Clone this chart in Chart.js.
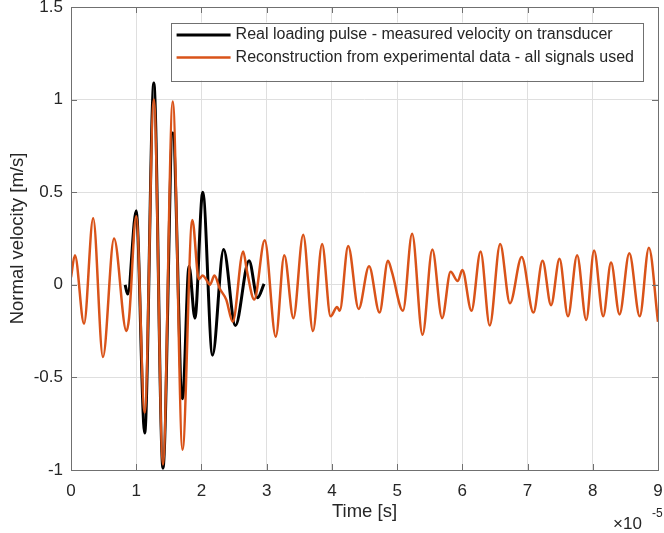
<!DOCTYPE html>
<html>
<head>
<meta charset="utf-8">
<script src="https://cdn.jsdelivr.net/npm/chart.js@4.4.1/dist/chart.umd.min.js"></script>
<style>
  html, body { margin: 0; padding: 0; background: #fff; }
  #wrap { width: 664px; height: 533px; }
</style>
</head>
<body>
<div id="wrap"><canvas id="velocityChart" width="664" height="533"></canvas></div>
<script>
// time values are in units of 1e-5 s (axis shows the x10^-5 multiplier)
const pulseTime = [0.83, 0.87, 1.00, 1.13, 1.27, 1.41, 1.56, 1.71, 1.81, 1.90, 2.02, 2.17, 2.34, 2.52, 2.73, 2.86, 2.96];
const pulseVel  = [0.00, -0.05, 0.40, -0.80, 1.09, -0.99, 0.82, -0.615, 0.10, -0.18, 0.50, -0.38, 0.19, -0.22, 0.13, -0.07, 0.005];

const reconTime = [0.00, 0.06, 0.20, 0.34, 0.49, 0.66, 0.85, 0.89, 1.00, 1.13, 1.27, 1.41, 1.56, 1.71, 1.86, 1.96,
  2.02, 2.07, 2.13, 2.20, 2.28, 2.38, 2.48, 2.64, 2.70, 2.81, 2.97, 3.14, 3.27, 3.41, 3.56, 3.71, 3.85, 3.98,
  4.08, 4.12, 4.25, 4.41, 4.57, 4.73, 4.86, 4.92, 5.09, 5.23, 5.39, 5.54, 5.69, 5.82, 5.93, 6.00, 6.14, 6.28,
  6.42, 6.58, 6.73, 6.91, 7.09, 7.23, 7.36, 7.49, 7.62, 7.76, 7.90, 8.02, 8.16, 8.28, 8.41, 8.56, 8.72, 8.86, 9.00];
const reconVel  = [0.04, 0.16, -0.21, 0.36, -0.39, 0.25, -0.25, -0.18, 0.37, -0.69, 1.00, -0.97, 0.99, -0.89, 0.35, 0.03,
  0.05, 0.03, 0.00, 0.05, -0.02, -0.08, -0.20, 0.18, 0.07, -0.08, 0.24, -0.28, 0.16, -0.18, 0.27, -0.25, 0.22, -0.17,
  -0.12, -0.14, 0.21, -0.13, 0.10, -0.15, 0.13, 0.07, -0.14, 0.275, -0.27, 0.19, -0.18, 0.07, 0.02, 0.08, -0.14, 0.18,
  -0.22, 0.22, -0.10, 0.15, -0.15, 0.13, -0.11, 0.14, -0.17, 0.16, -0.19, 0.185, -0.17, 0.12, -0.16, 0.17, -0.17, 0.20, -0.20];

const xTicks = [0, 1, 2, 3, 4, 5, 6, 7, 8, 9];
const yTicks = [-1, -0.5, 0, 0.5, 1, 1.5];

const seriesNames = [
  'Real loading pulse - measured velocity on transducer',
  'Reconstruction from experimental data - all signals used'
];

const textColor = '#262626';
const frameColor = '#707070';
const gridColor = '#dfdfdf';
const font = 'Liberation Sans, Arial, Helvetica, sans-serif';

const toPoints = (xs, ys) => xs.map((x, i) => ({ x: x, y: ys[i] }));

// MATLAB-ish box, inward ticks, legend and exponent label
const matlabAxes = {
  id: 'matlabAxes',
  afterDatasetsDraw(chart) {
    const { ctx, chartArea: a, scales } = chart;
    ctx.save();
    ctx.strokeStyle = frameColor;
    ctx.lineWidth = 1;
    ctx.strokeRect(a.left + 0.5, a.top + 0.5, a.right - a.left, a.bottom - a.top);
    ctx.beginPath();
    xTicks.forEach(t => {
      const px = Math.round(scales.x.getPixelForValue(t)) + 0.5;
      ctx.moveTo(px, a.bottom); ctx.lineTo(px, a.bottom - 6);
      ctx.moveTo(px, a.top); ctx.lineTo(px, a.top + 6);
    });
    yTicks.forEach(t => {
      const py = Math.round(scales.y.getPixelForValue(t)) + 0.5;
      ctx.moveTo(a.left, py); ctx.lineTo(a.left + 6, py);
      ctx.moveTo(a.right, py); ctx.lineTo(a.right - 6, py);
    });
    ctx.stroke();
    ctx.restore();
  },
  afterDraw(chart) {
    const { ctx, chartArea: a } = chart;
    ctx.save();

    // legend
    ctx.font = '16px ' + font;
    const textW = Math.max(...seriesNames.map(s => ctx.measureText(s).width));
    const boxR = a.right - 15, boxT = a.top + 15.5;
    const boxL = boxR - (textW + 74), boxB = boxT + 58;
    ctx.fillStyle = '#fff';
    ctx.fillRect(boxL, boxT, boxR - boxL, boxB - boxT);
    ctx.strokeStyle = frameColor;
    ctx.lineWidth = 1;
    ctx.strokeRect(Math.round(boxL) + 0.5, Math.round(boxT) + 0.5, Math.round(boxR - boxL), Math.round(boxB - boxT));
    chart.data.datasets.forEach((ds, i) => {
      const y = boxT + 12.5 + i * 22.5;
      ctx.strokeStyle = ds.borderColor;
      ctx.lineWidth = ds.borderWidth;
      ctx.beginPath();
      ctx.moveTo(boxL + 6, y); ctx.lineTo(boxL + 60, y);
      ctx.stroke();
      ctx.fillStyle = textColor;
      ctx.textBaseline = 'middle';
      ctx.textAlign = 'left';
      ctx.fillText(ds.label, boxL + 65, y);
    });

    // x10^-5 multiplier
    ctx.fillStyle = textColor;
    ctx.textBaseline = 'alphabetic';
    ctx.textAlign = 'left';
    ctx.font = '17px ' + font;
    ctx.fillText('\u00d710', 613, 529);
    ctx.font = '12px ' + font;
    ctx.fillText('-5', 652, 517);
    ctx.restore();
  }
};

new Chart(document.getElementById('velocityChart'), {
  type: 'line',
  data: {
    datasets: [
      {
        label: seriesNames[0],
        data: toPoints(pulseTime, pulseVel),
        borderColor: '#000000',
        borderWidth: 3,
        pointRadius: 0,
        cubicInterpolationMode: 'monotone',
        fill: false,
        order: 1
      },
      {
        label: seriesNames[1],
        data: toPoints(reconTime, reconVel),
        borderColor: '#D95319',
        borderWidth: 2.5,
        pointRadius: 0,
        cubicInterpolationMode: 'monotone',
        fill: false,
        order: 0
      }
    ]
  },
  options: {
    responsive: false,
    animation: false,
    layout: { padding: { top: 7, right: 6, left: 0, bottom: 0 } },
    plugins: {
      legend: { display: false },
      tooltip: { enabled: false }
    },
    scales: {
      x: {
        type: 'linear',
        min: 0,
        max: 9,
        afterBuildTicks: s => { s.ticks = xTicks.map(v => ({ value: v })); },
        afterFit: s => { s.height = 63; s.paddingLeft = 0; s.paddingRight = 0; },
        ticks: { color: textColor, font: { size: 17, family: font }, padding: 11, maxRotation: 0, callback: v => String(v) },
        grid: { color: gridColor, drawTicks: false },
        border: { display: false },
        title: { display: true, text: 'Time [s]', color: textColor, font: { size: 18.5, family: font }, padding: { top: 0, bottom: 10 } }
      },
      y: {
        type: 'linear',
        min: -1,
        max: 1.5,
        afterBuildTicks: s => { s.ticks = yTicks.map(v => ({ value: v })); },
        afterFit: s => { s.width = 71; s.paddingTop = 0; s.paddingBottom = 0; },
        ticks: { color: textColor, font: { size: 17, family: font }, padding: 8, callback: v => String(v) },
        grid: { color: gridColor, drawTicks: false },
        border: { display: false },
        title: { display: true, text: 'Normal velocity [m/s]', color: textColor, font: { size: 18.5, family: font }, padding: { top: 7, bottom: 0 } }
      }
    }
  },
  plugins: [matlabAxes]
});
</script>
</body>
</html>
